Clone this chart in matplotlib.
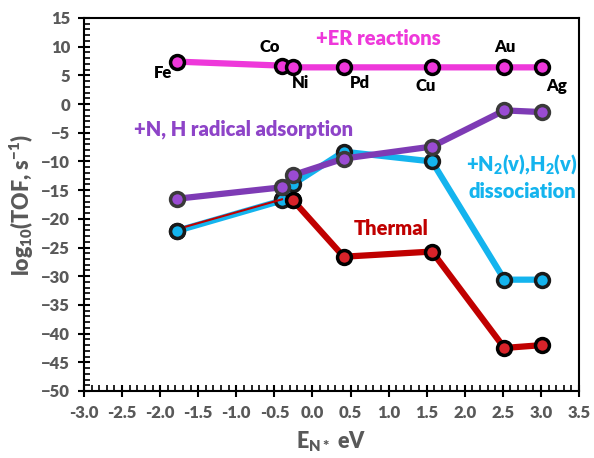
import matplotlib
matplotlib.use("Agg")
import matplotlib.pyplot as plt
from matplotlib.ticker import MultipleLocator

plt.rcParams['font.family'] = ['Lato', 'DejaVu Sans']
plt.rcParams['font.weight'] = 'heavy'
plt.rcParams['mathtext.fontset'] = 'custom'
plt.rcParams['mathtext.rm'] = 'Lato:heavy'
plt.rcParams['mathtext.it'] = 'Lato:heavy'
plt.rcParams['mathtext.bf'] = 'Lato:heavy'
plt.rcParams['mathtext.default'] = 'rm'

# Nitrogen binding energy (eV) for each metal
metals = ["Fe", "Co", "Ni", "Pd", "Cu", "Au", "Ag"]
e_n = [-1.78, -0.40, -0.26, 0.41, 1.57, 2.52, 3.02]

# log10 TOF values for each mechanism
tof_thermal = [-21.8, -16.6, -16.7, -26.6, -25.7, -42.5, -42.0]
tof_vib = [-22.1, -16.8, -14.0, -8.3, -10.0, -30.6, -30.6]
tof_radical = [-16.5, -14.5, -12.4, -9.5, -7.4, -1.1, -1.4]
tof_er = [7.4, 6.7, 6.4, 6.4, 6.4, 6.4, 6.4]

c_er = "#EE38DA"
c_rad = "#7E3BB5"
c_rad_face = "#9A4BD3"
c_vib = "#14B4EE"
c_th = "#C00000"
c_th_face = "#D8232A"
gray = "#595959"
W = "heavy"

fig = plt.figure(figsize=(5.94, 4.58), dpi=100)
ax = fig.add_axes([0.1414, 0.1463, 0.8334, 0.8144])

# Thermal: thin first segment, thick afterwards
ax.plot(e_n[:2], tof_thermal[:2], color=c_th, lw=1.5, zorder=3.2)
ax.plot(e_n[1:], tof_thermal[1:], color=c_th, lw=4.5, zorder=2,
        marker="o", ms=10, mfc=c_th_face, mec="black", mew=2.5)

ax.plot(e_n, tof_vib, color=c_vib, lw=4.5, zorder=3,
        marker="o", ms=10, mfc=c_vib, mec="#1a1a1a", mew=2.5)
ax.plot(e_n[:1], tof_vib[:1], ls="none", marker="o", ms=10,
        mfc=c_vib, mec="#1a1a1a", mew=2.5, zorder=3.4)
ax.plot(e_n[2:3], tof_thermal[2:3], ls="none", marker="o", ms=10,
        mfc=c_th_face, mec="black", mew=2.5, zorder=3.5)
ax.plot(e_n, tof_radical, color=c_rad, lw=4.5, zorder=4,
        marker="o", ms=10, mfc=c_rad_face, mec="#3a3a3a", mew=2.5)
ax.plot(e_n, tof_er, color=c_er, lw=4.5, zorder=5,
        marker="o", ms=10, mfc=c_er, mec="black", mew=2.5)

# Metal labels
label_pos = {
    "Fe": (-1.96, 5.4), "Co": (-0.56, 10.0), "Ni": (-0.16, 3.6),
    "Pd": (0.62, 3.7), "Cu": (1.48, 3.2), "Au": (2.53, 9.9), "Ag": (3.21, 3.2),
}
for m in metals:
    x, y = label_pos[m]
    ax.text(x, y, m, ha="center", va="center", fontsize=12,
            fontweight=W, color="black", zorder=6)

ax.text(0.86, 11.5, "+ER reactions", color=c_er, fontsize=14.5,
        fontweight=W, ha="center", va="center")
ax.text(-0.91, -4.3, "+N, H radical adsorption", color="#8E44C8", fontsize=14.5,
        fontweight=W, ha="center", va="center")
ax.text(1.03, -21.6, "Thermal", color=c_th, fontsize=14.5,
        fontweight=W, ha="center", va="center")
ax.text(2.75, -10.4, r"+N$_2$(v),H$_2$(v)", color=c_vib, fontsize=14.5,
        fontweight=W, ha="center", va="center")
ax.text(2.75, -15.2, "dissociation", color=c_vib, fontsize=14.5,
        fontweight=W, ha="center", va="center")

ax.set_xlim(-3.0, 3.5)
ax.set_ylim(-50, 15)
ax.xaxis.set_minor_locator(MultipleLocator(0.1))
ax.yaxis.set_major_locator(MultipleLocator(5))
ax.yaxis.set_minor_locator(MultipleLocator(1))
ax.set_xticks([-3.0 + 0.5 * i for i in range(14)])
ax.set_xticklabels([f"{-3.0 + 0.5 * i:.1f}" for i in range(14)])

ax.tick_params(which="major", direction="inout", length=8, width=1.5,
               colors="black", labelcolor=gray, labelsize=12, pad=6,
               top=False, right=False)
ax.tick_params(which="minor", direction="in", length=4, width=1.2,
               colors="black", top=False, right=False)
for lab in ax.get_xticklabels() + ax.get_yticklabels():
    lab.set_fontweight(W)
for s in ax.spines.values():
    s.set_linewidth(1.5)
    s.set_color("black")

ax.set_xlabel(r"E$_{N*}$ eV", color=gray, fontsize=15.5,
              fontweight=W, labelpad=6)
ax.set_ylabel(r"log$_{10}$(TOF, s$^{-1}$)", color=gray,
              fontsize=15.5, fontweight=W, labelpad=4)

fig.savefig("out.png", dpi=100)
